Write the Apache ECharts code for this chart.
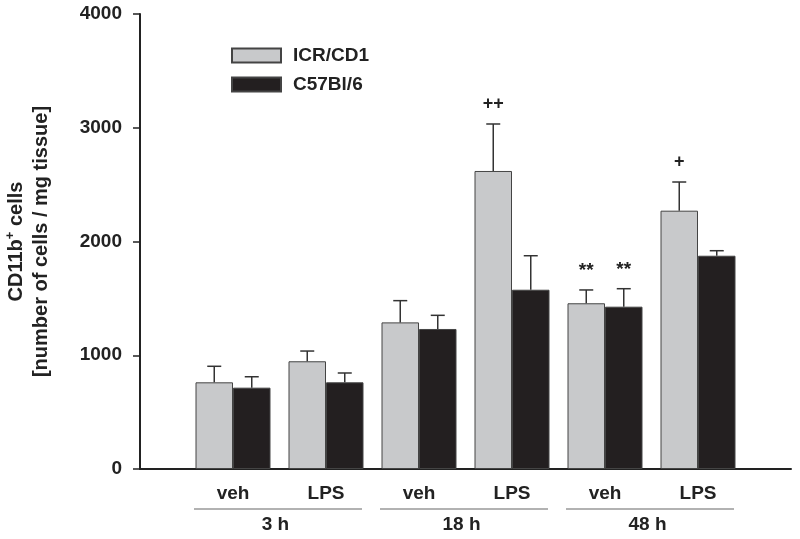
<!DOCTYPE html>
<html>
<head>
<meta charset="utf-8">
<script src="https://cdn.jsdelivr.net/npm/echarts@6/dist/echarts.min.js"></script>
<style>html,body{margin:0;padding:0;background:#fff}#c{width:800px;height:539px}</style>
</head>
<body>
<div id="c"></div>
<script>
const categories = ['', 'veh', 'LPS', 'veh', 'LPS', 'veh', 'LPS', ''];
const groups = ['3 h', '18 h', '48 h'];
const icrMeans = [762, 947, 1289, 2620, 1457, 2271];
const icrErr = [141, 90, 191, 413, 117, 252];
const c57Means = [715, 762, 1231, 1576, 1427, 1875];
const c57Err = [96, 82, 120, 299, 158, 44];
const icrMarks = ['', '', '', '++', '**', '+'];
const c57Marks = ['', '', '', '', '**', ''];

const FONT = "'Liberation Sans', Arial, sans-serif";
const BW = 37.5;
const chart = echarts.init(document.getElementById('c'), null, {renderer: 'canvas'});

function pad(arr) { return ['-'].concat(arr, ['-']); }
function errData(means, errs, marks) {
  return means.map((m, i) => [i + 1, m, errs[i], marks[i]]);
}
function errRender(sign) {
  return function (params, api) {
    const idx = api.value(0), m = api.value(1), e = api.value(2);
    const mark = api.value(3);
    const base = api.coord([idx, m]);
    const top = api.coord([idx, m + e]);
    const x = base[0] + sign * BW / 2;
    const children = [
      {type: 'line', shape: {x1: x, y1: base[1], x2: x, y2: top[1]}, style: {stroke: '#333', lineWidth: 1.5}},
      {type: 'line', shape: {x1: x - 7, y1: top[1], x2: x + 7, y2: top[1]}, style: {stroke: '#333', lineWidth: 1.5}}
    ];
    if (mark && mark !== '-') {
      const star = String(mark).indexOf('*') >= 0;
      children.push({type: 'text', style: {text: String(mark), x: x, y: top[1] - (star ? 19 : 20), align: 'center', verticalAlign: 'middle',
        font: 'bold ' + (star ? 19 : 18) + 'px ' + FONT, fill: '#222'}});
    }
    return {type: 'group', children: children};
  };
}

const option = {
  animation: false,
  backgroundColor: '#fff',
  grid: {left: 140, right: 9, top: 14, bottom: 70, containLabel: false, outerBoundsMode: 'none'},
  legend: {
    orient: 'vertical', left: 231, top: 46, padding: 0, itemWidth: 49, itemHeight: 14, itemGap: 10,
    icon: 'rect',
    textStyle: {fontFamily: FONT, fontWeight: 'bold', fontSize: 19, color: '#222', padding: [0, 0, 0, 7], lineHeight: 18},
    data: ['ICR/CD1', 'C57Bl/6']
  },
  xAxis: {
    type: 'category', data: categories, boundaryGap: false,
    axisLine: {lineStyle: {color: '#222', width: 2}},
    axisTick: {show: false},
    axisLabel: {fontFamily: FONT, fontWeight: 'bold', fontSize: 19, color: '#222', margin: 15, interval: 0}
  },
  yAxis: {
    type: 'value', min: 0, max: 4000, interval: 1000,
    splitLine: {show: false},
    axisLine: {show: true, lineStyle: {color: '#222', width: 2}},
    axisTick: {show: true, length: 7, lineStyle: {color: '#222', width: 1.5}},
    axisLabel: {fontFamily: FONT, fontWeight: 'bold', fontSize: 19, color: '#222', margin: 18, formatter: v => String(v)},
    name: '{a|CD11b}{s|+}{a| cells}\n{a|[number of cells / mg tissue]}',
    nameLocation: 'middle', nameRotate: 90, nameGap: 86,
    nameTextStyle: {
      align: 'center',
      rich: {
        a: {fontFamily: FONT, fontWeight: 'bold', fontSize: 20, color: '#222', lineHeight: 25},
        s: {fontFamily: FONT, fontWeight: 'bold', fontSize: 13, color: '#222', verticalAlign: 'top', lineHeight: 25, padding: [0, 0, 10, 0]}
      }
    }
  },
  series: [
    {name: 'ICR/CD1', type: 'bar', data: pad(icrMeans), barWidth: BW, barGap: '0%',
      itemStyle: {color: '#c8c9cb', borderColor: '#444', borderWidth: 1}},
    {name: 'C57Bl/6', type: 'bar', data: pad(c57Means), barWidth: BW, barGap: '0%',
      itemStyle: {color: '#231f20', borderColor: '#444', borderWidth: 1}},
    {type: 'custom', renderItem: errRender(-1), data: errData(icrMeans, icrErr, icrMarks), z: 5, silent: true},
    {type: 'custom', renderItem: errRender(1), data: errData(c57Means, c57Err, c57Marks), z: 5, silent: true}
  ]
};
chart.setOption(option);

const y0 = chart.convertToPixel({yAxisIndex: 0}, 0);
const gfx = [];
groups.forEach((g, k) => {
  const a = chart.convertToPixel({xAxisIndex: 0}, 1 + 2 * k);
  const b = chart.convertToPixel({xAxisIndex: 0}, 2 + 2 * k);
  gfx.push({type: 'line', shape: {x1: a - 39, y1: y0 + 40, x2: b + 36, y2: y0 + 40}, style: {stroke: '#666', lineWidth: 1.2}});
  gfx.push({type: 'text', style: {text: g, x: (a + b) / 2 - 4, y: y0 + 56, align: 'center', verticalAlign: 'middle',
    font: 'bold 19px ' + FONT, fill: '#222'}});
});
chart.setOption({graphic: gfx});
</script>
</body>
</html>
